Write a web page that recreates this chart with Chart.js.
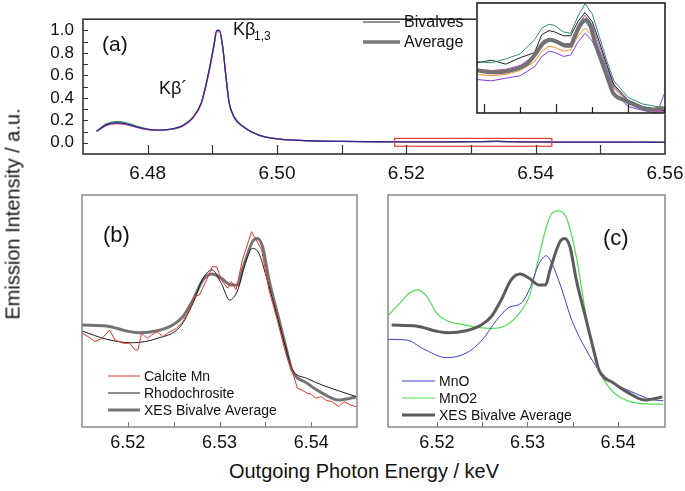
<!DOCTYPE html>
<html>
<head>
<meta charset="utf-8">
<script src="https://cdn.jsdelivr.net/npm/chart.js@4.4.1/dist/chart.umd.min.js"></script>
<style>
  body { margin: 0; background: #fff; width: 685px; height: 491px; position: relative; overflow: hidden; font-family: "Liberation Sans", Arial, sans-serif; }
  canvas { position: absolute; }
  #ytitle { position: absolute; left: 13px; top: 214px; transform: translate(-50%, -50%) rotate(-90deg); font-size: 20px; white-space: nowrap; color: #111; }
  #xtitle { position: absolute; left: 364px; top: 471px; transform: translate(-50%, -50%); font-family: "Liberation Sans Narrow", "Liberation Sans", Arial, sans-serif; font-size: 20px; white-space: nowrap; color: #111; }
</style>
</head>
<body>
<canvas id="chartA" width="685" height="185" style="left:0;top:0"></canvas>
<canvas id="chartInset" width="190" height="112" style="left:476px;top:2px"></canvas>
<canvas id="chartB" width="300" height="265" style="left:70px;top:190px"></canvas>
<canvas id="chartC" width="310" height="265" style="left:375px;top:190px"></canvas>
<div id="ytitle">Emission Intensity / a.u.</div>
<div id="xtitle">Outgoing Photon Energy / keV</div>
<script>
// ---- panel (a): full spectra, normalised to the Kb1,3 peak
const mainX = [6.4721, 6.4736, 6.4752, 6.4767, 6.4788, 6.4813, 6.4834, 6.4854, 6.4870, 6.4883,
  6.4890, 6.4895, 6.4902, 6.4907, 6.4911, 6.4916, 6.4921, 6.4926, 6.4934, 6.4947,
  6.4972, 6.500, 6.505, 6.510, 6.515, 6.520, 6.525, 6.530, 6.534, 6.538,
  6.545, 6.550, 6.555, 6.560];
const mainBlue = [0.102, 0.160, 0.178, 0.168, 0.134, 0.113, 0.120, 0.152, 0.226, 0.357,
  0.514, 0.646, 0.856, 1.000, 1.000, 0.856, 0.593, 0.357, 0.226, 0.147,
  0.068, 0.035, 0.018, 0.012, 0.009, 0.008, 0.008, 0.010, 0.012, 0.008,
  0.006, 0.005, 0.006, 0.004];
const mainGreen = [0.105, 0.168, 0.190, 0.178, 0.140, 0.113, 0.120, 0.152, 0.226, 0.357,
  0.514, 0.646, 0.856, 1.000, 1.000, 0.856, 0.593, 0.357, 0.226, 0.147,
  0.068, 0.035, 0.018, 0.012, 0.009, 0.008, 0.008, 0.010, 0.012, 0.008,
  0.006, 0.005, 0.006, 0.004];
const mainPink = [0.100, 0.155, 0.170, 0.162, 0.130, 0.110, 0.118, 0.148, 0.220, 0.350,
  0.500, 0.630, 0.840, 0.990, 0.990, 0.850, 0.590, 0.355, 0.224, 0.147,
  0.068, 0.035, 0.018, 0.012, 0.009, 0.008, 0.008, 0.010, 0.012, 0.008,
  0.006, 0.005, 0.006, 0.004];
const mainXLabels = [6.48, 6.50, 6.52, 6.54, 6.56];
const mainYLabels = [0, 0.2, 0.4, 0.6, 0.8, 1.0];
const mainXTicks = [6.48, 6.49, 6.50, 6.51, 6.52, 6.53, 6.54, 6.55];
const mainYTicks = [0, 0.1, 0.2, 0.3, 0.4, 0.5, 0.6, 0.7, 0.8, 0.9, 1.0];
const zoomBoxX = [6.5182, 6.5425];
const zoomBoxY = [-0.031, 0.039];

// ---- inset: individual bivalves in the Kb'' / Kb2,5 region
const insetX = [6.519, 6.521, 6.523, 6.525, 6.527, 6.528, 6.529, 6.5298, 6.531, 6.532,
  6.533, 6.534, 6.535, 6.536, 6.537, 6.538, 6.540, 6.542, 6.544, 6.545];
const bivTeal    = [49, 48, 51, 55, 66, 75, 78, 77, 72, 71, 84, 94, 86, 68, 50, 34, 21, 16, 14, 13];
const bivBlack   = [48, 50, 47, 52, 56, 70, 73, 72, 69, 69, 80, 87, 80, 64, 47, 31, 19, 14, 12, 11];
const bivMagenta = [43, 42, 43, 46, 54, 63, 67, 66, 63, 63, 77, 85, 77, 61, 45, 30, 18, 12, 10, 10];
const bivCyan    = [42, 41, 42, 45, 53, 61, 65, 64, 61, 61, 73, 80, 73, 58, 43, 29, 18, 13, 11, 11];
const bivOrange  = [39, 38, 39, 42, 49, 57, 61, 60, 57, 58, 69, 75, 69, 55, 41, 28, 17, 12, 10, 10];
const bivPurple  = [35, 34, 36, 38, 45, 53, 57, 56, 53, 54, 64, 71, 65, 52, 38, 25, 14, 11, 9, 24];
const insetTicks = [6.52, 6.525, 6.53, 6.535, 6.54, 6.545];

// ---- XES bivalve average (same units in inset, b and c)
const avgX = [6.5150, 6.5177, 6.5202, 6.5213, 6.5232, 6.5249, 6.5260, 6.5271, 6.5282, 6.5292,
  6.5302, 6.5313, 6.5320, 6.5325, 6.5336, 6.5341, 6.5347, 6.5354, 6.5365, 6.5374,
  6.5379, 6.5395, 6.5412, 6.5430, 6.5449];
const avgY = [44.0, 43.5, 41.1, 40.6, 41.5, 44.0, 47.5, 54.7, 63.4, 65.9,
  64.1, 61.2, 61.2, 67.7, 79.9, 81.3, 77.7, 63.4, 46.1, 31.9,
  24.6, 19.0, 14.6, 11.6, 12.9];

// ---- panel (b) references
const rhodoX = [6.5150, 6.5177, 6.5205, 6.5232, 6.5257, 6.5271, 6.5282, 6.5292, 6.5302, 6.5311,
  6.5320, 6.5327, 6.5336, 6.5343, 6.5351, 6.5362, 6.5373, 6.5379, 6.5395, 6.5412, 6.5449];
const rhodoY = [41.4, 37.8, 36.3, 38.2, 43.2, 53.3, 64.1, 67.7, 61.9, 54.7,
  59.1, 69.1, 77.0, 74.8, 64.8, 49.0, 33.2, 25.0, 21.0, 18.1, 13.1];
const calciteX = [6.5150, 6.5157, 6.5164, 6.5172, 6.5180, 6.5186, 6.5195, 6.5202, 6.5208, 6.5211,
  6.5215, 6.5221, 6.5226, 6.5232, 6.5238, 6.5243, 6.5253, 6.5260, 6.5265, 6.5273,
  6.5278, 6.5286, 6.5292, 6.5297, 6.5302, 6.5309, 6.5313, 6.5318, 6.5325, 6.5335,
  6.5340, 6.5346, 6.5354, 6.5363, 6.5373, 6.5379, 6.5385, 6.5390, 6.5396, 6.5400,
  6.5405, 6.5411, 6.5416, 6.5423, 6.5430, 6.5436, 6.5443, 6.5449];
const calciteY = [40.4, 38.9, 36.8, 38.2, 41.8, 37.5, 36.1, 36.1, 33.2, 33.2,
  40.4, 38.2, 39.7, 41.1, 38.9, 40.4, 42.5, 45.4, 49.0, 56.2,
  56.9, 63.4, 69.1, 69.1, 63.4, 59.8, 62.6, 59.1, 72.0, 84.2,
  80.6, 76.3, 59.1, 46.1, 30.6, 24.6, 16.7, 15.9, 14.5, 14.2,
  12.4, 13.1, 11.6, 10.9, 8.8, 10.9, 9.5, 8.8];

// ---- panel (c) references
const mnoX = [6.5146, 6.5167, 6.5184, 6.5211, 6.5233, 6.5250, 6.5266, 6.5280, 6.5293, 6.5302,
  6.5313, 6.5321, 6.5327, 6.5337, 6.5349, 6.5365, 6.5379, 6.5393, 6.5415, 6.5437, 6.5450];
const mnoY = [37.8, 37.5, 33.9, 29.9, 32.0, 37.5, 46.1, 51.6, 53.3, 59.1,
  70.5, 73.8, 70.5, 60.5, 46.1, 33.2, 24.6, 19.5, 15.2, 11.9, 11.3];
const mno2X = [6.5146, 6.5159, 6.5170, 6.5179, 6.5189, 6.5200, 6.5211, 6.5228, 6.5247, 6.5261,
  6.5277, 6.5291, 6.5302, 6.5311, 6.5321, 6.5327, 6.5335, 6.5344, 6.5354, 6.5365,
  6.5376, 6.5387, 6.5401, 6.5423, 6.5450];
const mno2Y = [48.0, 53.3, 57.9, 59.1, 56.2, 49.0, 45.8, 44.2, 42.8, 42.5,
  44.0, 49.0, 56.2, 70.5, 86.3, 92.1, 93.2, 89.2, 73.4, 47.5,
  27.4, 18.8, 13.1, 10.2, 9.8];
const bcLabels = [6.52, 6.53, 6.54];
const bcTicks = [6.52, 6.525, 6.53, 6.535, 6.54];

function xy(xs, ys) { return xs.map((x, i) => ({ x: x, y: ys[i] })); }

function line(label, xs, ys, color, width, smooth) {
  return {
    label: label, data: xy(xs, ys), borderColor: color, borderWidth: width,
    pointRadius: 0, fill: false,
    cubicInterpolationMode: smooth ? 'monotone' : 'default', tension: 0
  };
}

function fixTicks(values) {
  return s => { s.ticks = values.map(v => ({ value: v })); };
}

// frame, inward ticks, legend and labels drawn on top of the lines
function decor(cfg) {
  return {
    id: 'decor',
    beforeDraw(chart) {
      if (!cfg.white) return;
      const c = chart.ctx;
      c.save(); c.fillStyle = '#fff'; c.fillRect(0, 0, chart.width, chart.height); c.restore();
    },
    afterDatasetsDraw(chart) {
      const c = chart.ctx, a = chart.chartArea, sx = chart.scales.x, sy = chart.scales.y;
      c.save();
      if (cfg.box) {
        const x0 = sx.getPixelForValue(cfg.box.x[0]), x1 = sx.getPixelForValue(cfg.box.x[1]);
        const y0 = sy.getPixelForValue(cfg.box.y[1]), y1 = sy.getPixelForValue(cfg.box.y[0]);
        c.strokeStyle = '#e23a3a'; c.lineWidth = 1.2;
        c.strokeRect(x0, y0, x1 - x0, y1 - y0);
      }
      c.strokeStyle = cfg.color; c.lineWidth = cfg.tickWidth;
      c.beginPath();
      (cfg.xTicks || []).forEach((v, i) => {
        const px = Math.round(sx.getPixelForValue(v)) + 0.5;
        const len = i % 2 === 0 ? cfg.xLen[0] : cfg.xLen[1];
        c.moveTo(px, a.bottom); c.lineTo(px, a.bottom - len);
      });
      (cfg.yTicks || []).forEach(v => {
        const py = Math.round(sy.getPixelForValue(v)) + 0.5;
        c.moveTo(a.left, py); c.lineTo(a.left + cfg.yLen, py);
      });
      c.stroke();
      c.lineWidth = cfg.frameWidth;
      c.strokeRect(a.left, a.top, a.right - a.left, a.bottom - a.top);
      (cfg.legend || []).forEach(it => {
        const ds = it.ds !== undefined ? chart.data.datasets[it.ds] : it;
        c.strokeStyle = ds.borderColor; c.lineWidth = ds.borderWidth;
        c.beginPath(); c.moveTo(it.x0, it.y); c.lineTo(it.x1, it.y); c.stroke();
        c.fillStyle = '#111'; c.font = cfg.legendFont;
        c.textBaseline = 'middle'; c.textAlign = 'left';
        c.fillText(it.text, it.x1 + 4, it.y + 1);
      });
      (cfg.texts || []).forEach(t => {
        c.fillStyle = '#111'; c.font = t.font;
        c.textBaseline = 'middle'; c.textAlign = 'left';
        c.fillText(t.text, t.x, t.y);
      });
      c.restore();
    }
  };
}

const FONT = '"Liberation Sans", Arial, sans-serif';
const NARROW = '"Liberation Sans Narrow", "Liberation Sans", Arial, sans-serif';

// ---------- panel (a)
new Chart(document.getElementById('chartA'), {
  type: 'line',
  data: {
    datasets: [
      line('Bivalve 1', mainX, mainBlue, '#2e2a94', 1.3, true),
      line('Bivalve 2', mainX, mainPink, '#d457b8', 1.2, true),
      line('Bivalve 3', mainX, mainPink, '#e8a15a', 1.2, true),
      line('Bivalve 4', mainX, mainGreen, '#3f9a55', 1.2, true)
    ]
  },
  options: {
    responsive: false, animation: false,
    layout: { padding: { left: 0, top: 3, right: 20, bottom: 0 } },
    plugins: { legend: { display: false }, tooltip: { enabled: false } },
    scales: {
      x: {
        type: 'linear', min: 6.47, max: 6.56,
        afterBuildTicks: fixTicks(mainXLabels),
        ticks: { autoSkip: false, maxRotation: 0,
          callback: v => v.toFixed(2), font: { family: FONT, size: 19 }, color: '#111', padding: 8 },
        grid: { display: false, drawTicks: false }, border: { display: false },
        afterFit: s => { s.height = 31; s.paddingRight = 0; s.paddingLeft = 0; }
      },
      y: {
        min: -0.1, max: 1.1,
        afterBuildTicks: fixTicks(mainYLabels),
        ticks: { callback: v => v.toFixed(1), font: { family: FONT, size: 17 }, color: '#111', padding: 9 },
        grid: { display: false, drawTicks: false }, border: { display: false },
        afterFit: s => { s.width = 83; }
      }
    }
  },
  plugins: [decor({
    color: '#333', tickWidth: 1.2, frameWidth: 1.6,
    xTicks: mainXTicks, xLen: [9, 9], yTicks: mainYTicks, yLen: 5,
    box: { x: zoomBoxX, y: zoomBoxY },
    legendFont: '16px ' + FONT,
    legend: [
      { text: 'Bivalves', x0: 363, x1: 400, y: 22, borderColor: '#222', borderWidth: 1 },
      { text: 'Average', x0: 363, x1: 400, y: 42, borderColor: '#777', borderWidth: 3.5 }
    ],
    texts: [
      { text: '(a)', x: 102, y: 45, font: '21px ' + FONT },
      { text: 'Kβ', x: 233, y: 30, font: '18px ' + FONT },
      { text: '1,3', x: 254, y: 37, font: '12px ' + FONT },
      { text: 'Kβ´', x: 159, y: 89, font: '18px ' + FONT }
    ]
  })]
});

// ---------- inset
new Chart(document.getElementById('chartInset'), {
  type: 'line',
  data: {
    datasets: [
      line('Bivalve average', avgX, avgY, '#727272', 4, true),
      line('Bivalve teal', insetX, bivTeal, '#2f8c7c', 1, false),
      line('Bivalve black', insetX, bivBlack, '#222222', 1, false),
      line('Bivalve magenta', insetX, bivMagenta, '#d03fc0', 1, false),
      line('Bivalve cyan', insetX, bivCyan, '#2a9fd8', 1, false),
      line('Bivalve orange', insetX, bivOrange, '#f0902f', 1, false),
      line('Bivalve purple', insetX, bivPurple, '#8a3be0', 1, false)
    ]
  },
  options: {
    responsive: false, animation: false,
    layout: { padding: 1 },
    plugins: { legend: { display: false }, tooltip: { enabled: false } },
    scales: {
      x: { type: 'linear', min: 6.519, max: 6.5451, display: false },
      y: { min: 9, max: 94.5, display: false }
    }
  },
  plugins: [decor({
    white: true, color: '#222', tickWidth: 1.2, frameWidth: 1.6,
    xTicks: insetTicks, xLen: [9, 6]
  })]
});

// ---------- panels (b) and (c)
function refPanel(id, datasets, padRight, padLeft, min, max, deco) {
  return new Chart(document.getElementById(id), {
    type: 'line',
    data: { datasets: datasets },
    options: {
      responsive: false, animation: false,
      layout: { padding: { left: padLeft, top: 5, right: padRight, bottom: 0 } },
      plugins: { legend: { display: false }, tooltip: { enabled: false } },
      scales: {
        x: {
          type: 'linear', min: min, max: max,
          afterBuildTicks: fixTicks(bcLabels),
          ticks: { autoSkip: false, maxRotation: 0,
            callback: v => v.toFixed(2), font: { family: NARROW, size: 18 }, color: '#111', padding: 5 },
          grid: { display: false, drawTicks: false }, border: { display: false },
          afterFit: s => { s.height = 28; s.paddingRight = 0; s.paddingLeft = 0; }
        },
        y: { min: 0, max: 100, display: false }
      }
    },
    plugins: [deco]
  });
}

refPanel('chartB', [
  line('Calcite Mn', calciteX, calciteY, '#e5352f', 1, false),
  line('Rhodochrosite', rhodoX, rhodoY, '#1c1c1c', 1, true),
  line('XES Bivalve Average', avgX, avgY, '#747474', 3, true)
], 13, 12, 6.515, 6.545, decor({
  color: '#777', tickWidth: 1, frameWidth: 1.3,
  xTicks: bcTicks, xLen: [5, 5],
  legendFont: '14px ' + FONT,
  legend: [
    { ds: 0, text: 'Calcite Mn', x0: 38, x1: 70, y: 186 },
    { ds: 1, text: 'Rhodochrosite', x0: 38, x1: 70, y: 203 },
    { ds: 2, text: 'XES Bivalve Average', x0: 38, x1: 70, y: 220 }
  ],
  texts: [{ text: '(b)', x: 33, y: 46, font: '22px ' + FONT }]
}));

refPanel('chartC', [
  line('XES Bivalve Average', avgX, avgY, '#5c5c5c', 3, true),
  line('MnO', mnoX, mnoY, '#3d3dd4', 1, true),
  line('MnO2', mno2X, mno2Y, '#4ee04e', 1.2, true)
], 20, 13, 6.5146, 6.5452, decor({
  color: '#777', tickWidth: 1, frameWidth: 1.3,
  xTicks: bcTicks, xLen: [5, 5],
  legendFont: '14px ' + FONT,
  legend: [
    { ds: 1, text: 'MnO', x0: 27, x1: 60, y: 191 },
    { ds: 2, text: 'MnO2', x0: 27, x1: 60, y: 208 },
    { ds: 0, text: 'XES Bivalve Average', x0: 27, x1: 60, y: 225 }
  ],
  texts: [{ text: '(c)', x: 228, y: 49, font: '22px ' + FONT }]
}));
</script>
</body>
</html>
